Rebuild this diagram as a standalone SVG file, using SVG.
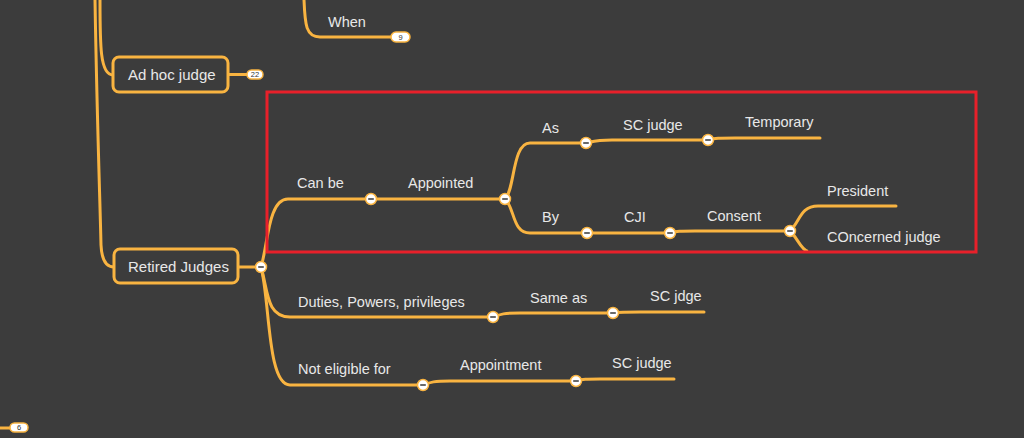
<svg xmlns="http://www.w3.org/2000/svg" width="1024" height="438" viewBox="0 0 1024 438">
<defs>
<style>
.bg{fill:#3c3c3c}
.ln{fill:none;stroke:#f9b441;stroke-width:3;stroke-linecap:round}
.box{fill:#3c3c3c;stroke:#f9b441;stroke-width:3}
.t{font-family:"Liberation Sans",Arial,sans-serif;font-size:14.5px;fill:#e8e8e8}
.bt{font-family:"Liberation Sans",Arial,sans-serif;font-size:15px;fill:#e8e8e8}
.cc{fill:#ffffff;stroke:#f9b441;stroke-width:1.5}
.mn{stroke:#444;stroke-width:1.6}
.pill{fill:#ffffff;stroke:#f9b441;stroke-width:1.5}
.pt{font-family:"Liberation Sans",Arial,sans-serif;font-size:7.5px;fill:#333;text-anchor:middle}
.red{fill:none;stroke:#e8202a;stroke-width:3}
</style>
<g id="collapse"><circle class="cc" r="5.5"/><line class="mn" x1="-2.8" y1="0" x2="2.8" y2="0"/></g>
</defs>
<rect class="bg" width="1024" height="438"/>
<g id="connectors">
<path class="ln" d="M100,0 C100,45 100,75 113,75"/>
<path class="ln" d="M95,0 C97,120 100,200 101,245 Q102,267 114,267"/>
<path class="ln" d="M304,0 C305,25 306,37 320,37 L391,37"/>
<path class="ln" d="M228,74.5 L247,74.5"/>
<path class="ln" d="M0,428 L10,428"/>
<path class="ln" d="M238,267 L261,267"/>
<path class="ln" d="M261,267 C268,245 268,199 288,199 L371,199 L505,199"/>
<path class="ln" d="M505,199 C515,190 512,143 530,143 L586,143 C595,141 597,140 612,140 L708,140 C716,138 718,138 735,138 L820,138"/>
<path class="ln" d="M505,199 C515,208 512,233 530,233 L587,233 L670,233 C677,231 680,231 695,231 L790,231"/>
<path class="ln" d="M790,231 C800,222 800,206 818,206 L896,206"/>
<path class="ln" d="M790,231 C797,237 801,250 808,251.5" style="stroke-linecap:butt"/>
<path class="ln" d="M261,267 C268,290 266,317 290,317 L493,317 C501,314 504,313 520,313 L613,313 C620,312 622,312 640,312 L704,312"/>
<path class="ln" d="M261,267 C270,300 267,385 290,385 L423,385 C431,382 434,381 450,381 L576,381 C583,379 586,379 600,379 L674,379"/>
</g>
<g id="node-when"><text class="t" x="328" y="27">When</text>
<rect class="pill" x="391" y="32" width="19" height="10" rx="5"/><text class="pt" x="400.5" y="39.5">9</text></g>
<g id="node-adhoc"><rect class="box" x="113" y="57" width="115" height="35" rx="6"/><text class="bt" x="128" y="80">Ad hoc judge</text>
<rect class="pill" x="247" y="70" width="16" height="9" rx="4.5"/><text class="pt" x="255" y="77">22</text></g>
<g id="node-six"><rect class="pill" x="10" y="423" width="18" height="9" rx="4.5"/><text class="pt" x="19" y="430">6</text></g>
<g id="node-retired"><rect class="box" x="114" y="249" width="124" height="34" rx="6"/><text class="bt" x="128" y="272">Retired Judges</text></g>
<g id="node-canbe"><text class="t" x="297" y="188">Can be</text></g>
<g id="node-appointed"><text class="t" x="408" y="188">Appointed</text></g>
<g id="node-as"><text class="t" x="542" y="133">As</text></g>
<g id="node-scjudge1"><text class="t" x="623" y="130">SC judge</text></g>
<g id="node-temporary"><text class="t" x="745" y="127">Temporary</text></g>
<g id="node-by"><text class="t" x="542" y="222">By</text></g>
<g id="node-cji"><text class="t" x="624" y="222">CJI</text></g>
<g id="node-consent"><text class="t" x="707" y="221">Consent</text></g>
<g id="node-president"><text class="t" x="827" y="196">President</text></g>
<g id="node-concerned"><text class="t" x="827" y="242">COncerned judge</text></g>
<g id="node-duties"><text class="t" x="298" y="307">Duties, Powers, privileges</text></g>
<g id="node-sameas"><text class="t" x="530" y="303">Same as</text></g>
<g id="node-scjdge"><text class="t" x="650" y="301">SC jdge</text></g>
<g id="node-noteligible"><text class="t" x="298" y="374">Not eligible for</text></g>
<g id="node-appointment"><text class="t" x="460" y="370">Appointment</text></g>
<g id="node-scjudge2"><text class="t" x="612" y="368">SC judge</text></g>
<g id="collapsers">
<use href="#collapse" x="261" y="267"/>
<use href="#collapse" x="371" y="199"/>
<use href="#collapse" x="505" y="199"/>
<use href="#collapse" x="586" y="143"/>
<use href="#collapse" x="708" y="140"/>
<use href="#collapse" x="587" y="233"/>
<use href="#collapse" x="670" y="233"/>
<use href="#collapse" x="790" y="231"/>
<use href="#collapse" x="493" y="317"/>
<use href="#collapse" x="613" y="313"/>
<use href="#collapse" x="423" y="385"/>
<use href="#collapse" x="576" y="381"/>
</g>
<rect class="red" x="267" y="92" width="709" height="160"/>
</svg>
